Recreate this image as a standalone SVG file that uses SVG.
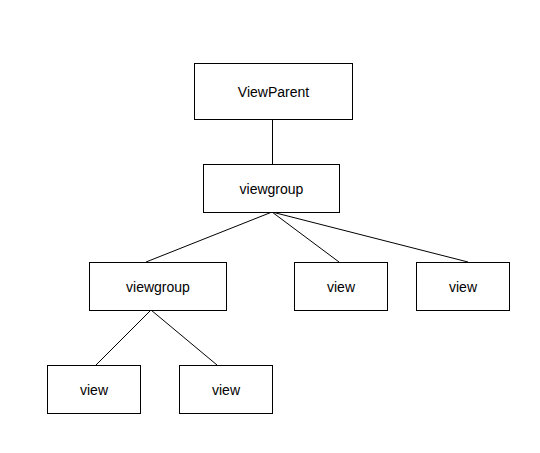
<svg xmlns="http://www.w3.org/2000/svg" width="540" height="453" viewBox="0 0 540 453">
<style>
.n rect{fill:#fff;stroke:#000;stroke-width:1}
.n text{font-family:"Liberation Sans",Arial,sans-serif;font-size:14px;fill:#000;text-anchor:middle;dominant-baseline:central}
.c line{stroke:#000;stroke-width:1}
</style>
<rect width="540" height="453" fill="#fff"/>
<g class="c">
<line x1="272.5" y1="119" x2="272.5" y2="164"/>
<line x1="272" y1="212" x2="146" y2="262"/>
<line x1="272" y1="212" x2="339" y2="262"/>
<line x1="272" y1="212" x2="468" y2="262"/>
<line x1="151" y1="310" x2="96" y2="365"/>
<line x1="151" y1="310" x2="217" y2="365"/>
</g>
<g id="viewparent" class="n"><rect x="194.5" y="63.5" width="158" height="56"/><text x="273.5" y="91.5">ViewParent</text></g>
<g id="viewgroup1" class="n"><rect x="203.5" y="164.5" width="136" height="48"/><text x="271.5" y="188.5">viewgroup</text></g>
<g id="viewgroup2" class="n"><rect x="89.5" y="262.5" width="137" height="48"/><text x="158" y="286.5">viewgroup</text></g>
<g id="view1" class="n"><rect x="294.5" y="262.5" width="93" height="48"/><text x="341" y="286.5">view</text></g>
<g id="view2" class="n"><rect x="416.5" y="262.5" width="93" height="48"/><text x="463" y="286.5">view</text></g>
<g id="view3" class="n"><rect x="47.5" y="365.5" width="93" height="48"/><text x="94" y="389.5">view</text></g>
<g id="view4" class="n"><rect x="179.5" y="365.5" width="93" height="48"/><text x="226" y="389.5">view</text></g>
</svg>
